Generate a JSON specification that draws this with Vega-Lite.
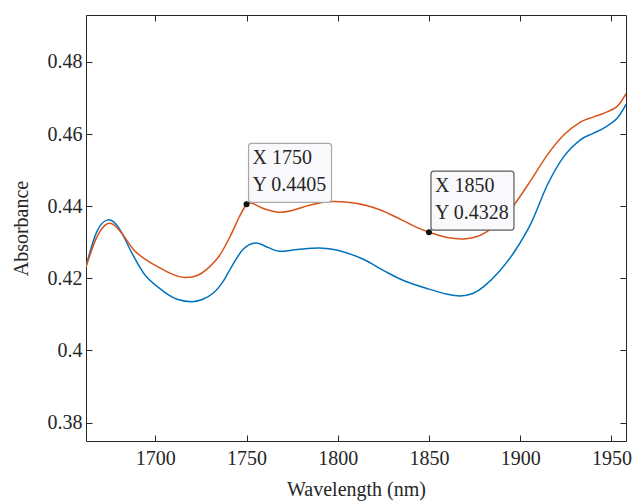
{
  "$schema": "https://vega.github.io/schema/vega-lite/v6.json",
  "width": 540,
  "height": 426,
  "autosize": "none",
  "padding": {"left": 86, "top": 15, "right": 6, "bottom": 60},
  "background": "white",
  "config": {
    "view": {"stroke": "#262626", "strokeWidth": 1},
    "font": "Liberation Serif",
    "axis": {
      "grid": false,
      "domain": false,
      "tickColor": "#262626",
      "tickWidth": 1,
      "tickSize": -6,
      "labelFont": "Liberation Serif",
      "labelFontSize": 20,
      "labelColor": "#262626",
      "titleFont": "Liberation Serif",
      "titleFontSize": 20,
      "titleFontWeight": "normal",
      "titleColor": "#262626"
    }
  },
  "datasets": {
    "spectra": [
      {"wl": 1662, "ab": 0.4233, "s": "A"},
      {"wl": 1668, "ab": 0.4330, "s": "A"},
      {"wl": 1674, "ab": 0.4362, "s": "A"},
      {"wl": 1680, "ab": 0.4340, "s": "A"},
      {"wl": 1688, "ab": 0.4262, "s": "A"},
      {"wl": 1695, "ab": 0.4205, "s": "A"},
      {"wl": 1705, "ab": 0.4162, "s": "A"},
      {"wl": 1712, "ab": 0.4142, "s": "A"},
      {"wl": 1720, "ab": 0.4135, "s": "A"},
      {"wl": 1726, "ab": 0.4142, "s": "A"},
      {"wl": 1732, "ab": 0.4160, "s": "A"},
      {"wl": 1737, "ab": 0.4190, "s": "A"},
      {"wl": 1741, "ab": 0.4225, "s": "A"},
      {"wl": 1748, "ab": 0.4280, "s": "A"},
      {"wl": 1755, "ab": 0.4298, "s": "A"},
      {"wl": 1762, "ab": 0.4285, "s": "A"},
      {"wl": 1768, "ab": 0.4275, "s": "A"},
      {"wl": 1778, "ab": 0.4280, "s": "A"},
      {"wl": 1790, "ab": 0.4284, "s": "A"},
      {"wl": 1800, "ab": 0.4278, "s": "A"},
      {"wl": 1814, "ab": 0.4253, "s": "A"},
      {"wl": 1825, "ab": 0.4222, "s": "A"},
      {"wl": 1836, "ab": 0.4194, "s": "A"},
      {"wl": 1850, "ab": 0.4170, "s": "A"},
      {"wl": 1860, "ab": 0.4156, "s": "A"},
      {"wl": 1867, "ab": 0.4151, "s": "A"},
      {"wl": 1874, "ab": 0.4158, "s": "A"},
      {"wl": 1880, "ab": 0.4177, "s": "A"},
      {"wl": 1889, "ab": 0.4222, "s": "A"},
      {"wl": 1897, "ab": 0.4275, "s": "A"},
      {"wl": 1906, "ab": 0.4353, "s": "A"},
      {"wl": 1915, "ab": 0.4460, "s": "A"},
      {"wl": 1924, "ab": 0.4538, "s": "A"},
      {"wl": 1933, "ab": 0.4584, "s": "A"},
      {"wl": 1940, "ab": 0.4602, "s": "A"},
      {"wl": 1946, "ab": 0.4617, "s": "A"},
      {"wl": 1953, "ab": 0.4643, "s": "A"},
      {"wl": 1958, "ab": 0.4682, "s": "A"},
      {"wl": 1662, "ab": 0.4231, "s": "B"},
      {"wl": 1668, "ab": 0.4315, "s": "B"},
      {"wl": 1674, "ab": 0.4352, "s": "B"},
      {"wl": 1680, "ab": 0.4335, "s": "B"},
      {"wl": 1688, "ab": 0.4280, "s": "B"},
      {"wl": 1695, "ab": 0.4251, "s": "B"},
      {"wl": 1705, "ab": 0.4222, "s": "B"},
      {"wl": 1712, "ab": 0.4206, "s": "B"},
      {"wl": 1717, "ab": 0.4202, "s": "B"},
      {"wl": 1723, "ab": 0.4208, "s": "B"},
      {"wl": 1728, "ab": 0.4224, "s": "B"},
      {"wl": 1735, "ab": 0.4262, "s": "B"},
      {"wl": 1741, "ab": 0.4316, "s": "B"},
      {"wl": 1746, "ab": 0.4370, "s": "B"},
      {"wl": 1750, "ab": 0.4405, "s": "B"},
      {"wl": 1753, "ab": 0.4408, "s": "B"},
      {"wl": 1760, "ab": 0.4392, "s": "B"},
      {"wl": 1768, "ab": 0.4383, "s": "B"},
      {"wl": 1775, "ab": 0.4388, "s": "B"},
      {"wl": 1785, "ab": 0.4403, "s": "B"},
      {"wl": 1796, "ab": 0.4413, "s": "B"},
      {"wl": 1810, "ab": 0.4408, "s": "B"},
      {"wl": 1823, "ab": 0.4390, "s": "B"},
      {"wl": 1835, "ab": 0.4362, "s": "B"},
      {"wl": 1843, "ab": 0.4342, "s": "B"},
      {"wl": 1850, "ab": 0.4328, "s": "B"},
      {"wl": 1860, "ab": 0.4313, "s": "B"},
      {"wl": 1869, "ab": 0.4309, "s": "B"},
      {"wl": 1876, "ab": 0.4315, "s": "B"},
      {"wl": 1882, "ab": 0.4330, "s": "B"},
      {"wl": 1890, "ab": 0.4365, "s": "B"},
      {"wl": 1897, "ab": 0.4406, "s": "B"},
      {"wl": 1906, "ab": 0.4473, "s": "B"},
      {"wl": 1915, "ab": 0.4543, "s": "B"},
      {"wl": 1924, "ab": 0.4598, "s": "B"},
      {"wl": 1933, "ab": 0.4633, "s": "B"},
      {"wl": 1940, "ab": 0.4647, "s": "B"},
      {"wl": 1946, "ab": 0.4658, "s": "B"},
      {"wl": 1953, "ab": 0.4676, "s": "B"},
      {"wl": 1958, "ab": 0.4712, "s": "B"}
    ],
    "tips": [
      {"wl": 1750, "ab": 0.4405, "label": "X 1750\nY 0.4405", "tip": "first"},
      {"wl": 1850, "ab": 0.4328, "label": "X 1850\nY 0.4328", "tip": "second"}
    ]
  },
  "resolve": {"axis": {"x": "independent", "y": "independent"}},
  "layer": [
    {
      "data": {"name": "spectra"},
      "mark": {"type": "line", "interpolate": "cardinal", "strokeWidth": 1.5, "clip": true},
      "encoding": {
        "x": {
          "field": "wl", "type": "quantitative",
          "scale": {"domain": [1662, 1958], "nice": false, "zero": false},
          "axis": {"orient": "bottom", "values": [1700, 1750, 1800, 1850, 1900, 1950], "format": "d", "title": "Wavelength (nm)", "labelPadding": 13, "titlePadding": 11}
        },
        "y": {
          "field": "ab", "type": "quantitative",
          "scale": {"domain": [0.3749, 0.4930], "nice": false, "zero": false},
          "axis": {"orient": "left", "values": [0.38, 0.4, 0.42, 0.44, 0.46, 0.48], "format": "~g", "title": "Absorbance", "labelPadding": 10, "titlePadding": 16}
        },
        "color": {
          "field": "s", "type": "nominal",
          "scale": {"domain": ["A", "B"], "range": ["#0072BD", "#D95319"]},
          "legend": null
        }
      }
    },
    {
      "data": {"name": "tips"},
      "mark": {"type": "point", "filled": true, "color": "#111111", "size": 36, "opacity": 1},
      "encoding": {
        "x": {"field": "wl", "type": "quantitative", "axis": {"orient": "top", "values": [1700, 1750, 1800, 1850, 1900, 1950], "labels": false, "title": null}},
        "y": {"field": "ab", "type": "quantitative", "axis": {"orient": "right", "values": [0.38, 0.4, 0.42, 0.44, 0.46, 0.48], "labels": false, "title": null}}
      }
    },
    {
      "data": {"name": "tips"},
      "mark": {
        "type": "point",
        "shape": "M2,-5 L2,-58 Q2,-61 5,-61 L82,-61 Q85,-61 85,-58 L85,-5 Q85,-2 82,-2 L5,-2 Q2,-2 2,-5 Z",
        "size": 4,
        "filled": true,
        "fill": "#f9f9fb",
        "fillOpacity": 1,
        "strokeWidth": 1.2,
        "opacity": 1
      },
      "encoding": {
        "x": {"field": "wl", "type": "quantitative", "axis": null},
        "y": {"field": "ab", "type": "quantitative", "axis": null},
        "stroke": {
          "field": "tip", "type": "nominal",
          "scale": {"domain": ["first", "second"], "range": ["#a8a8a8", "#5a5a5a"]},
          "legend": null
        }
      }
    },
    {
      "data": {"name": "tips"},
      "mark": {
        "type": "text", "align": "left", "baseline": "alphabetic",
        "dx": 6, "dy": -40, "lineBreak": "\n", "lineHeight": 26.5,
        "font": "Liberation Serif", "fontSize": 20, "color": "#262626"
      },
      "encoding": {
        "x": {"field": "wl", "type": "quantitative", "axis": null},
        "y": {"field": "ab", "type": "quantitative", "axis": null},
        "text": {"field": "label"}
      }
    }
  ]
}
